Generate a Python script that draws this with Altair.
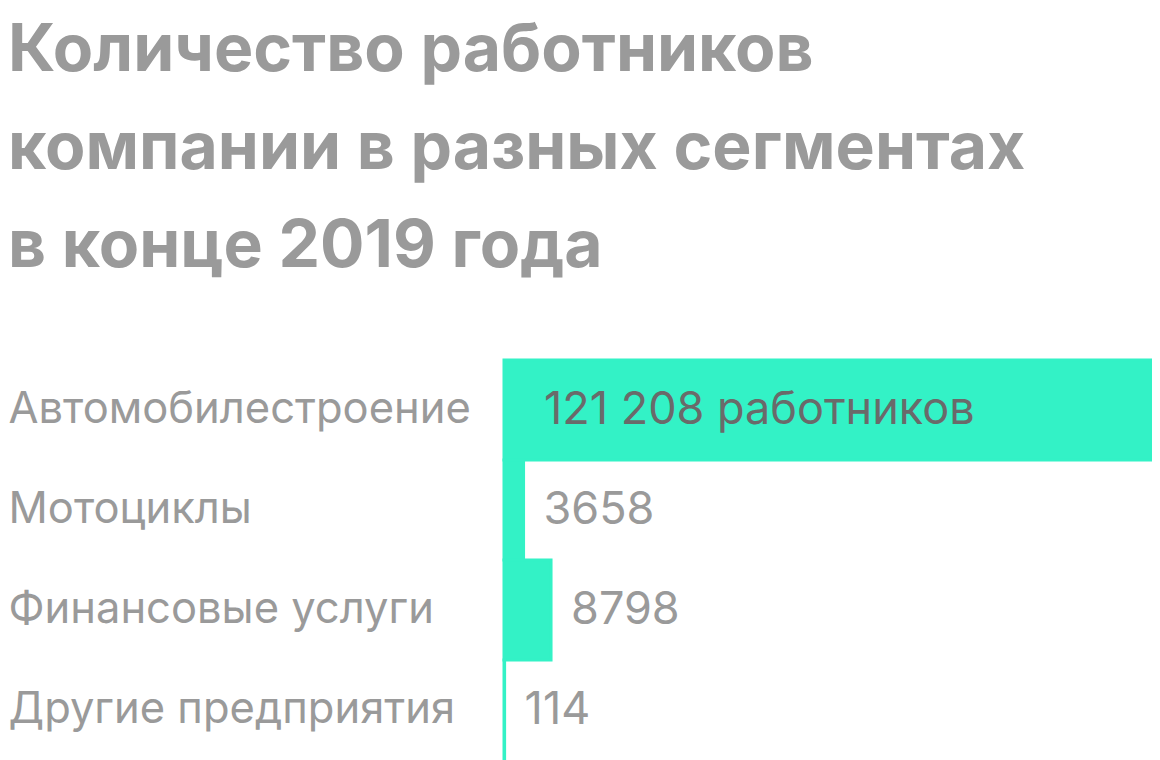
import altair as alt
import pandas as pd

categories = ["Автомобилестроение", "Мотоциклы", "Финансовые услуги", "Другие предприятия"]
values = [121208, 3658, 8798, 114]
value_labels = ["121 208 работников", "3658", "8798", "114"]
title_lines = ["Количество работников", "компании в разных сегментах", "в конце 2019 года"]

df = pd.DataFrame({"cat": categories, "value": values, "label": value_labels})

BAR = "#33f2c6"
FONT = "Inter"

y = alt.Y("cat:N", sort=categories, title=None,
          scale=alt.Scale(paddingInner=0, paddingOuter=0),
          axis=alt.Axis(domain=False, ticks=False, labelAlign="left", labelPadding=496,
                        labelFont=FONT, labelFontSize=43.5, labelColor="#9a9a9a",
                        labelLimit=600, labelBaseline="middle"))
x = alt.X("value:Q", title=None, axis=None,
          scale=alt.Scale(domain=[0, 121208], nice=False, zero=True))

bars = alt.Chart(df).mark_bar(color=BAR, stroke=BAR, strokeWidth=3).encode(x=x, y=y)

inside = alt.Chart(df).transform_filter("datum.value > 100000").transform_calculate(
    start="0"
).mark_text(
    align="left", baseline="middle", dx=40, font=FONT, fontSize=45, color="#6a6a6a"
).encode(x=alt.X("start:Q", axis=None), y=y, text="label:N")

outside = alt.Chart(df).transform_filter("datum.value <= 100000").mark_text(
    align="left", baseline="middle", dx=20, font=FONT, fontSize=45, color="#9a9a9a"
).encode(x=x, y=y, text="label:N")

chart = alt.layer(bars, inside, outside).properties(
    width=648, height=400,
    title=alt.TitleParams(text=title_lines, anchor="start", frame="bounds",
                          font=FONT, fontSize=66, fontWeight="bold", color="#9a9a9a",
                          lineHeight=98, offset=78),
    autosize=alt.AutoSizeParams(type="none"),
    padding={"left": 496, "top": 352, "right": 0, "bottom": 0},
).configure_view(stroke=None)

chart.save("out.html", embed_options={"renderer": "svg", "actions": False})
